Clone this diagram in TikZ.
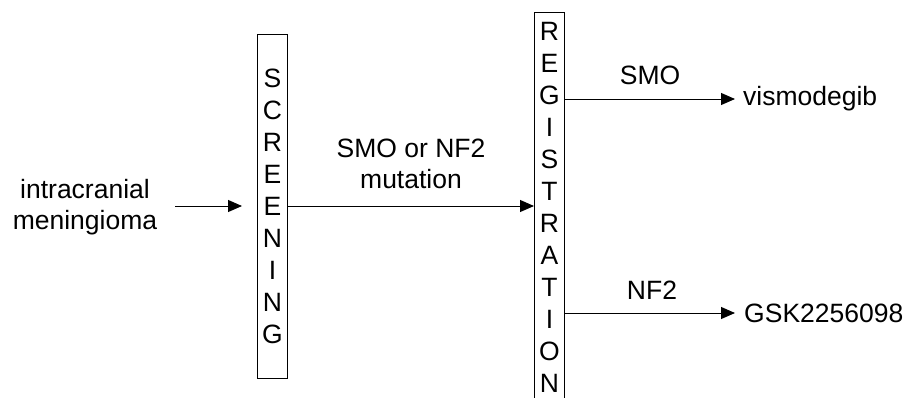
\documentclass[tikz,border=0pt]{standalone}
\usepackage{fontspec}
\setmainfont{Liberation Sans}
\usetikzlibrary{arrows.meta}
\begin{document}
\begin{tikzpicture}[x=1pt,y=-1pt,
  lbl/.style={font=\fontsize{26.5}{31}\selectfont, align=center, inner sep=0pt},
  bar/.style={draw, line width=1pt, minimum width=30pt, inner sep=0pt,
    font=\fontsize{26.5}{32}\selectfont, align=center},
  flow/.style={line width=1pt, -{Triangle[length=14pt,width=12pt]}}]
\useasboundingbox (0,0) rectangle (912,397);
\clip (0,0) rectangle (912,397);

% input
\node[lbl] (src) at (85,207) {intracranial\\meningioma};

% the two stages
\node[bar, minimum height=344pt] (scr) at (272.5,206) {S\\C\\R\\E\\E\\N\\I\\N\\G};
\node[bar, minimum height=390pt] (reg) at (549.5,207) {R\\E\\G\\I\\S\\T\\R\\A\\T\\I\\O\\N};

% outcomes
\node[lbl, anchor=west] (vis) at (743,99) {vismodegib};
\node[lbl, anchor=west] (gsk) at (744,313) {GSK2256098};

% arrow labels
\node[lbl] (mut) at (411,164) {SMO or NF2\\mutation};
\node[lbl] (smo) at (650,75) {SMO};
\node[lbl] (nf2) at (652,290) {NF2};

% connectors
\coordinate (s0) at (175,206);
\coordinate (s1) at (242,206);
\draw[flow] (s0) -- (s1);
\draw[flow] (scr.east) -- (scr.east -| reg.west);
\draw[flow] (reg.east |- vis.west) -- ([xshift=-8pt]vis.west);
\draw[flow] (reg.east |- gsk.west) -- ([xshift=-9pt]gsk.west);
\end{tikzpicture}
\end{document}
